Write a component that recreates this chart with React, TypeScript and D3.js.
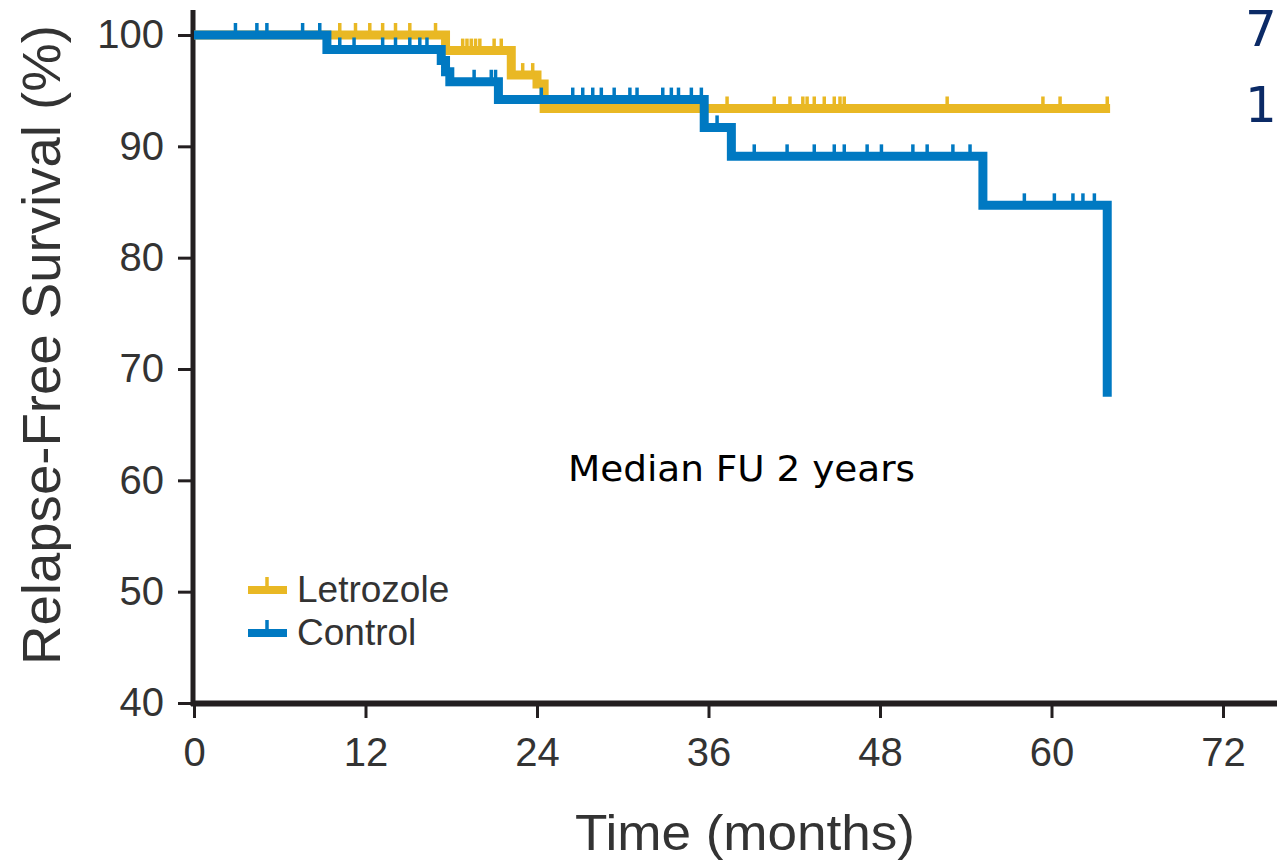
import React, { useEffect, useRef } from 'react';
import * as d3 from 'd3';

// Kaplan-Meier steps (months, survival %)
const letrozoleStepTimes = [0, 17.6, 22.2, 24.0, 24.5, 64.1];
const letrozoleStepValues = [100, 98.6, 96.4, 95.6, 93.4, 93.4];
const letrozoleCensored = [
  10.2, 11.3, 12.3, 13.2, 14.1, 15.1, 16.9, 18.8, 19.1, 19.4, 19.7, 20.0, 21.0, 21.5,
  23.0, 23.7, 37.3, 40.6, 41.7, 42.6, 42.9, 43.4, 44.1, 44.8, 45.2, 45.5, 52.7, 59.4,
  60.6, 63.9,
];

const controlStepTimes = [0, 9.3, 17.3, 17.6, 17.9, 21.3, 35.7, 37.6, 55.2, 63.9];
const controlStepValues = [100, 98.7, 97.7, 96.7, 95.8, 94.2, 91.7, 89.1, 84.7, 67.5];
const controlCensored = [
  2.9, 4.4, 5.1, 7.6, 8.8, 10.2, 11.2, 13.2, 14.1, 15.1, 15.8, 16.3, 19.6, 20.8, 21.1,
  24.3, 26.5, 27.2, 27.9, 28.5, 29.4, 30.5, 31.0, 32.8, 33.4, 33.9, 34.8, 35.5, 36.6,
  39.2, 41.5, 43.4, 44.8, 45.5, 47.1, 48.1, 50.3, 51.3, 53.1, 54.3, 58.1, 60.2, 61.5,
  62.2, 63.0,
];

const xTicks = [0, 12, 24, 36, 48, 60, 72];
const yTicks = [40, 50, 60, 70, 80, 90, 100];

const seriesNames = ['Letrozole', 'Control'];
const seriesColors = ['#E9B824', '#0079C2'];

const W = 1277;
const H = 867;

export default function App() {
  const svgRef = useRef<SVGSVGElement>(null);

  useEffect(() => {
    if (!svgRef.current) return;
    const svg = d3.select(svgRef.current);
    svg.selectAll('*').remove();

    const x = d3.scaleLinear().domain([0, 72]).range([194, 1223]);
    const y = d3.scaleLinear().domain([40, 100]).range([703, 35]);

    const axisColor = '#231f20';
    const textColor = '#333333';
    const font = '"Liberation Sans", Arial, sans-serif';

    // axes
    const yAxis = svg.append('g')
      .attr('transform', 'translate(193,0)')
      .call(d3.axisLeft(y).tickValues(yTicks).tickSize(15).tickPadding(14).tickFormat(d3.format('d')));
    yAxis.select('.domain').remove();
    yAxis.selectAll('line').attr('stroke', axisColor).attr('stroke-width', 3);
    yAxis.selectAll('text')
      .attr('fill', textColor).attr('font-family', font).attr('font-size', 40);

    const xAxis = svg.append('g')
      .attr('transform', 'translate(0,705)')
      .call(d3.axisBottom(x).tickValues(xTicks).tickSize(13).tickPadding(20).tickFormat(d3.format('d')));
    xAxis.select('.domain').remove();
    xAxis.selectAll('line').attr('stroke', axisColor).attr('stroke-width', 3);
    xAxis.selectAll('text')
      .attr('fill', textColor).attr('font-family', font).attr('font-size', 40);

    svg.append('line')
      .attr('x1', 193).attr('x2', 193).attr('y1', 10).attr('y2', 706)
      .attr('stroke', axisColor).attr('stroke-width', 5);
    svg.append('line')
      .attr('x1', 191).attr('x2', W).attr('y1', 703.5).attr('y2', 703.5)
      .attr('stroke', axisColor).attr('stroke-width', 6);

    // curves
    const stepLine = d3.line<[number, number]>()
      .x(d => x(d[0]))
      .y(d => y(d[1]))
      .curve(d3.curveStepAfter);

    const drawSeries = (times: number[], values: number[], censored: number[], color: string) => {
      const pts = times.map((t, i) => [t, values[i]] as [number, number]);
      svg.append('path')
        .datum(pts)
        .attr('fill', 'none')
        .attr('stroke', color)
        .attr('stroke-width', 9)
        .attr('stroke-linejoin', 'miter')
        .attr('d', stepLine);

      const survAt = (t: number) => {
        let v = values[0];
        times.forEach((tt, i) => { if (tt <= t) v = values[i]; });
        return v;
      };
      svg.append('g').selectAll('line')
        .data(censored)
        .join('line')
        .attr('x1', d => x(d)).attr('x2', d => x(d))
        .attr('y1', d => y(survAt(d)))
        .attr('y2', d => y(survAt(d)) - 12)
        .attr('stroke', color)
        .attr('stroke-width', 3.5);
    };

    drawSeries(letrozoleStepTimes, letrozoleStepValues, letrozoleCensored, seriesColors[0]);
    drawSeries(controlStepTimes, controlStepValues, controlCensored, seriesColors[1]);

    // legend
    const legend = svg.append('g');
    seriesNames.forEach((name, i) => {
      const ly = 590 + i * 43;
      legend.append('line')
        .attr('x1', 248).attr('x2', 287).attr('y1', ly).attr('y2', ly)
        .attr('stroke', seriesColors[i]).attr('stroke-width', 8);
      legend.append('line')
        .attr('x1', 267).attr('x2', 267).attr('y1', ly).attr('y2', ly - 13)
        .attr('stroke', seriesColors[i]).attr('stroke-width', 3.5);
      legend.append('text')
        .attr('x', 297).attr('y', ly + 12)
        .attr('fill', textColor).attr('font-family', font).attr('font-size', 37)
        .text(name);
    });

    // titles
    svg.append('text')
      .attr('transform', 'translate(60,345) rotate(-90)')
      .attr('text-anchor', 'middle')
      .attr('fill', textColor).attr('font-family', font).attr('font-size', 54)
      .attr('textLength', 640).attr('lengthAdjust', 'spacingAndGlyphs')
      .text('Relapse-Free Survival (%)');

    svg.append('text')
      .attr('x', 745).attr('y', 850)
      .attr('text-anchor', 'middle')
      .attr('fill', textColor).attr('font-family', font).attr('font-size', 50)
      .attr('textLength', 340).attr('lengthAdjust', 'spacingAndGlyphs')
      .text('Time (months)');

    svg.append('text')
      .attr('x', 568).attr('y', 481)
      .attr('fill', '#000').attr('font-family', '"DejaVu Sans", sans-serif').attr('font-size', 36)
      .attr('textLength', 347).attr('lengthAdjust', 'spacingAndGlyphs')
      .text('Median FU 2 years');

    // slide text at the top right edge
    svg.append('text')
      .attr('x', 1245).attr('y', 46)
      .attr('fill', '#0B2A66').attr('font-family', '"DejaVu Sans", sans-serif').attr('font-size', 50)
      .text('7');
    svg.append('text')
      .attr('x', 1245).attr('y', 122)
      .attr('fill', '#0B2A66').attr('font-family', '"DejaVu Sans", sans-serif').attr('font-size', 50)
      .text('1');
  }, []);

  return (
    <svg
      ref={svgRef}
      width={W}
      height={H}
      style={{ position: 'absolute', left: 0, top: 0, background: '#fff' }}
    />
  );
}
